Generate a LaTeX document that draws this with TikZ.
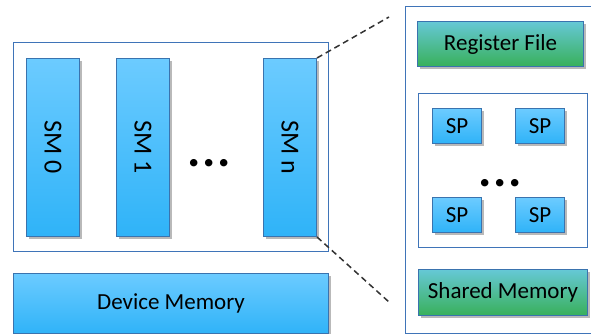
\documentclass[tikz,border=0pt]{standalone}
\usepackage{fontspec}
\setmainfont{Carlito}
\usetikzlibrary{positioning,shadows}

\definecolor{edgeblue}{HTML}{3A73AE}
\definecolor{frameblue}{HTML}{3F74B8}
\definecolor{cyantop}{HTML}{6CCBFF}
\definecolor{cyanbot}{HTML}{2FB3F8}
\definecolor{greentop}{HTML}{66C8D6}
\definecolor{greenbot}{HTML}{38B05A}

\tikzset{
    frame/.style={draw=frameblue, line width=1.3pt, fill=white, anchor=north west},
    unitbox/.style={draw=edgeblue, line width=1pt, anchor=north west,
        top color=cyantop, bottom color=cyanbot,
        drop shadow={shadow xshift=2.5pt, shadow yshift=-2.5pt, fill=gray!55, opacity=1}},
    storebox/.style={unitbox, top color=greentop, bottom color=greenbot},
    zoomline/.style={dashed, dash pattern=on 6pt off 4pt, line width=1.5pt, draw=black!80},
    ellip/.style={font=\fontsize{50}{50}\selectfont\bfseries, anchor=base, inner sep=0pt}
}

\begin{document}
\begin{tikzpicture}[x=1pt,y=-1pt, font=\fontsize{23}{26}\selectfont]
    \useasboundingbox (0,0) rectangle (591,334);

    % GPU with its multiprocessors
    \node[frame, minimum width=315, minimum height=209] (gpu) at (13,42) {};
    \node[unitbox, minimum width=53, minimum height=178] (sm0) at (26,58)
        {\fontsize{26}{28}\selectfont\rotatebox{-90}{SM 0}};
    \node[unitbox, minimum width=53, minimum height=178] (sm1) at (116,58)
        {\fontsize{26}{28}\selectfont\rotatebox{-90}{SM 1}};
    \node[unitbox, minimum width=53, minimum height=178] (smn) at (263,58)
        {\fontsize{26}{28}\selectfont\rotatebox{-90}{SM n}};
    \node[ellip] (smdots) at (209,166) {.\kern1.5pt.\kern1.5pt.};

    % Device memory
    \node[unitbox, minimum width=315, minimum height=60] (devmem) at (13,273) {Device Memory};

    % Zoomed view of one SM
    \node[frame, minimum width=200, minimum height=327] (smbox) at (405,6) {};
    \node[storebox, minimum width=166, minimum height=45] (regfile) at (417,21) {Register File};
    \node[frame, line width=1pt, minimum width=169, minimum height=154] (spbox) at (418,93) {};
    \node[unitbox, minimum width=49, minimum height=35] (sp1) at (432,108) {SP};
    \node[unitbox, minimum width=49, minimum height=35] (sp2) at (515,108) {SP};
    \node[unitbox, minimum width=49, minimum height=35] (sp3) at (432,197) {SP};
    \node[unitbox, minimum width=49, minimum height=35] (sp4) at (515,197) {SP};
    \node[ellip] (spdots) at (500,186) {.\kern1.5pt.\kern1.5pt.};
    \node[storebox, minimum width=169, minimum height=46] (shmem) at (418,269) {Shared Memory};

    % Zoom lines
    \coordinate (ztop) at (389,17);
    \coordinate (zbot) at (389,302);
    \draw[zoomline] (smn.north east) -- (ztop);
    \draw[zoomline] (smn.south east) -- (zbot);
\end{tikzpicture}
\end{document}
